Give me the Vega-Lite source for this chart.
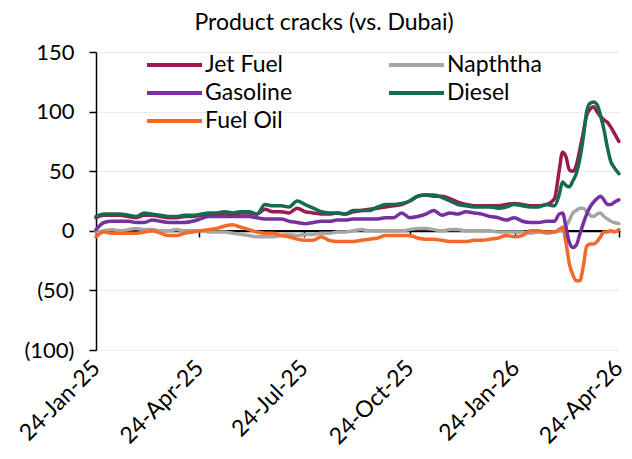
{
  "$schema": "https://vega.github.io/schema/vega-lite/v6.json",
  "width": 524,
  "height": 298,
  "autosize": {"type": "none"},
  "padding": {"left": 96, "top": 52, "right": 12, "bottom": 109},
  "background": "white",
  "config": {
    "font": "Lato",
    "view": {"stroke": null},
    "axis": {"labelFont": "Lato", "labelColor": "black", "labelFontSize": 20, "titleFont": "Lato"},
    "legend": {"labelFont": "Lato"}
  },
  "title": {
    "text": "Product cracks (vs. Dubai)",
    "font": "Lato",
    "fontSize": 23,
    "fontWeight": "normal",
    "color": "black",
    "anchor": "middle",
    "offset": 6,
    "dx": -34
  },
  "data": {
    "values": [
      {"date": "2025-01-24", "Jet Fuel": 11, "Napththa": -1, "Gasoline": 1, "Diesel": 12, "Fuel Oil": -5},
      {"date": "2025-01-31", "Jet Fuel": 13, "Napththa": 0, "Gasoline": 7, "Diesel": 14, "Fuel Oil": -1},
      {"date": "2025-02-07", "Jet Fuel": 13, "Napththa": 1, "Gasoline": 8, "Diesel": 14, "Fuel Oil": -2},
      {"date": "2025-02-14", "Jet Fuel": 13, "Napththa": 0, "Gasoline": 8, "Diesel": 14, "Fuel Oil": -2},
      {"date": "2025-02-21", "Jet Fuel": 12, "Napththa": 1, "Gasoline": 8, "Diesel": 13, "Fuel Oil": -2},
      {"date": "2025-02-28", "Jet Fuel": 11, "Napththa": 2, "Gasoline": 7, "Diesel": 12, "Fuel Oil": -2},
      {"date": "2025-03-07", "Jet Fuel": 13, "Napththa": 1, "Gasoline": 7, "Diesel": 15, "Fuel Oil": -1},
      {"date": "2025-03-14", "Jet Fuel": 13, "Napththa": 1, "Gasoline": 9, "Diesel": 14, "Fuel Oil": 0},
      {"date": "2025-03-21", "Jet Fuel": 12, "Napththa": 0, "Gasoline": 8, "Diesel": 13, "Fuel Oil": -2},
      {"date": "2025-03-28", "Jet Fuel": 11, "Napththa": 0, "Gasoline": 7, "Diesel": 12, "Fuel Oil": -4},
      {"date": "2025-04-04", "Jet Fuel": 11, "Napththa": 1, "Gasoline": 7, "Diesel": 12, "Fuel Oil": -4},
      {"date": "2025-04-11", "Jet Fuel": 12, "Napththa": 0, "Gasoline": 7, "Diesel": 13, "Fuel Oil": -2},
      {"date": "2025-04-18", "Jet Fuel": 12, "Napththa": 0, "Gasoline": 8, "Diesel": 13, "Fuel Oil": -1},
      {"date": "2025-04-25", "Jet Fuel": 13, "Napththa": 0, "Gasoline": 10, "Diesel": 14, "Fuel Oil": 0},
      {"date": "2025-05-02", "Jet Fuel": 14, "Napththa": -1, "Gasoline": 12, "Diesel": 15, "Fuel Oil": 1},
      {"date": "2025-05-09", "Jet Fuel": 14, "Napththa": -1, "Gasoline": 12, "Diesel": 15, "Fuel Oil": 2},
      {"date": "2025-05-16", "Jet Fuel": 15, "Napththa": -1, "Gasoline": 12, "Diesel": 16, "Fuel Oil": 4},
      {"date": "2025-05-23", "Jet Fuel": 14, "Napththa": -2, "Gasoline": 12, "Diesel": 15, "Fuel Oil": 5},
      {"date": "2025-05-30", "Jet Fuel": 15, "Napththa": -3, "Gasoline": 12, "Diesel": 16, "Fuel Oil": 3},
      {"date": "2025-06-06", "Jet Fuel": 15, "Napththa": -4, "Gasoline": 12, "Diesel": 16, "Fuel Oil": 1},
      {"date": "2025-06-13", "Jet Fuel": 14, "Napththa": -5, "Gasoline": 11, "Diesel": 14, "Fuel Oil": -1},
      {"date": "2025-06-20", "Jet Fuel": 18, "Napththa": -5, "Gasoline": 10, "Diesel": 22, "Fuel Oil": -2},
      {"date": "2025-06-27", "Jet Fuel": 16, "Napththa": -5, "Gasoline": 10, "Diesel": 21, "Fuel Oil": -2},
      {"date": "2025-07-04", "Jet Fuel": 16, "Napththa": -4, "Gasoline": 10, "Diesel": 21, "Fuel Oil": -4},
      {"date": "2025-07-11", "Jet Fuel": 15, "Napththa": -3, "Gasoline": 8, "Diesel": 20, "Fuel Oil": -5},
      {"date": "2025-07-18", "Jet Fuel": 19, "Napththa": -4, "Gasoline": 7, "Diesel": 25, "Fuel Oil": -7},
      {"date": "2025-07-25", "Jet Fuel": 16, "Napththa": -3, "Gasoline": 6, "Diesel": 22, "Fuel Oil": -8},
      {"date": "2025-08-01", "Jet Fuel": 15, "Napththa": -3, "Gasoline": 7, "Diesel": 19, "Fuel Oil": -8},
      {"date": "2025-08-08", "Jet Fuel": 14, "Napththa": -2, "Gasoline": 8, "Diesel": 16, "Fuel Oil": -5},
      {"date": "2025-08-15", "Jet Fuel": 14, "Napththa": -2, "Gasoline": 8, "Diesel": 15, "Fuel Oil": -8},
      {"date": "2025-08-22", "Jet Fuel": 15, "Napththa": -1, "Gasoline": 9, "Diesel": 15, "Fuel Oil": -9},
      {"date": "2025-08-29", "Jet Fuel": 14, "Napththa": -1, "Gasoline": 9, "Diesel": 14, "Fuel Oil": -9},
      {"date": "2025-09-05", "Jet Fuel": 16, "Napththa": 0, "Gasoline": 10, "Diesel": 17, "Fuel Oil": -9},
      {"date": "2025-09-12", "Jet Fuel": 17, "Napththa": 1, "Gasoline": 10, "Diesel": 17, "Fuel Oil": -8},
      {"date": "2025-09-19", "Jet Fuel": 18, "Napththa": 0, "Gasoline": 10, "Diesel": 17, "Fuel Oil": -7},
      {"date": "2025-09-26", "Jet Fuel": 19, "Napththa": 0, "Gasoline": 10, "Diesel": 20, "Fuel Oil": -6},
      {"date": "2025-10-03", "Jet Fuel": 20, "Napththa": 0, "Gasoline": 11, "Diesel": 22, "Fuel Oil": -4},
      {"date": "2025-10-10", "Jet Fuel": 21, "Napththa": 0, "Gasoline": 11, "Diesel": 22, "Fuel Oil": -4},
      {"date": "2025-10-17", "Jet Fuel": 22, "Napththa": 0, "Gasoline": 15, "Diesel": 23, "Fuel Oil": -4},
      {"date": "2025-10-24", "Jet Fuel": 25, "Napththa": 1, "Gasoline": 11, "Diesel": 25, "Fuel Oil": -4},
      {"date": "2025-10-31", "Jet Fuel": 29, "Napththa": 2, "Gasoline": 12, "Diesel": 29, "Fuel Oil": -6},
      {"date": "2025-11-07", "Jet Fuel": 30, "Napththa": 2, "Gasoline": 14, "Diesel": 30, "Fuel Oil": -7},
      {"date": "2025-11-14", "Jet Fuel": 29, "Napththa": 1, "Gasoline": 17, "Diesel": 30, "Fuel Oil": -7},
      {"date": "2025-11-21", "Jet Fuel": 29, "Napththa": 0, "Gasoline": 13, "Diesel": 28, "Fuel Oil": -8},
      {"date": "2025-11-28", "Jet Fuel": 27, "Napththa": 1, "Gasoline": 15, "Diesel": 25, "Fuel Oil": -9},
      {"date": "2025-12-05", "Jet Fuel": 24, "Napththa": 1, "Gasoline": 14, "Diesel": 22, "Fuel Oil": -9},
      {"date": "2025-12-12", "Jet Fuel": 22, "Napththa": 0, "Gasoline": 16, "Diesel": 21, "Fuel Oil": -9},
      {"date": "2025-12-19", "Jet Fuel": 21, "Napththa": 0, "Gasoline": 15, "Diesel": 20, "Fuel Oil": -8},
      {"date": "2025-12-26", "Jet Fuel": 21, "Napththa": 0, "Gasoline": 14, "Diesel": 20, "Fuel Oil": -8},
      {"date": "2026-01-02", "Jet Fuel": 21, "Napththa": 0, "Gasoline": 12, "Diesel": 20, "Fuel Oil": -7},
      {"date": "2026-01-09", "Jet Fuel": 21, "Napththa": -1, "Gasoline": 11, "Diesel": 19, "Fuel Oil": -6},
      {"date": "2026-01-16", "Jet Fuel": 22, "Napththa": -1, "Gasoline": 9, "Diesel": 20, "Fuel Oil": -4},
      {"date": "2026-01-23", "Jet Fuel": 23, "Napththa": -1, "Gasoline": 11, "Diesel": 22, "Fuel Oil": -5},
      {"date": "2026-01-30", "Jet Fuel": 22, "Napththa": -1, "Gasoline": 8, "Diesel": 21, "Fuel Oil": -4},
      {"date": "2026-02-06", "Jet Fuel": 21, "Napththa": -2, "Gasoline": 7, "Diesel": 20, "Fuel Oil": 0},
      {"date": "2026-02-13", "Jet Fuel": 21, "Napththa": -1, "Gasoline": 7, "Diesel": 20, "Fuel Oil": 0},
      {"date": "2026-02-20", "Jet Fuel": 22, "Napththa": -2, "Gasoline": 8, "Diesel": 22, "Fuel Oil": -1},
      {"date": "2026-02-27", "Jet Fuel": 27, "Napththa": -1, "Gasoline": 8, "Diesel": 21, "Fuel Oil": -1},
      {"date": "2026-03-03", "Jet Fuel": 50, "Napththa": 0, "Gasoline": 14, "Diesel": 30, "Fuel Oil": 1},
      {"date": "2026-03-06", "Jet Fuel": 66, "Napththa": 1, "Gasoline": 15, "Diesel": 41, "Fuel Oil": 3},
      {"date": "2026-03-09", "Jet Fuel": 62, "Napththa": 4, "Gasoline": 3, "Diesel": 38, "Fuel Oil": -10},
      {"date": "2026-03-12", "Jet Fuel": 51, "Napththa": 9, "Gasoline": -10, "Diesel": 37, "Fuel Oil": -28},
      {"date": "2026-03-15", "Jet Fuel": 50, "Napththa": 15, "Gasoline": -14, "Diesel": 42, "Fuel Oil": -37},
      {"date": "2026-03-18", "Jet Fuel": 55, "Napththa": 17, "Gasoline": -12, "Diesel": 48, "Fuel Oil": -42},
      {"date": "2026-03-21", "Jet Fuel": 68, "Napththa": 19, "Gasoline": -3, "Diesel": 60, "Fuel Oil": -42},
      {"date": "2026-03-24", "Jet Fuel": 82, "Napththa": 19, "Gasoline": 6, "Diesel": 78, "Fuel Oil": -30},
      {"date": "2026-03-27", "Jet Fuel": 97, "Napththa": 16, "Gasoline": 14, "Diesel": 100, "Fuel Oil": -13},
      {"date": "2026-03-30", "Jet Fuel": 102, "Napththa": 13, "Gasoline": 20, "Diesel": 107, "Fuel Oil": -11},
      {"date": "2026-04-02", "Jet Fuel": 104, "Napththa": 12, "Gasoline": 24, "Diesel": 108, "Fuel Oil": -11},
      {"date": "2026-04-05", "Jet Fuel": 100, "Napththa": 14, "Gasoline": 27, "Diesel": 106, "Fuel Oil": -9},
      {"date": "2026-04-08", "Jet Fuel": 96, "Napththa": 15, "Gasoline": 29, "Diesel": 97, "Fuel Oil": -5},
      {"date": "2026-04-11", "Jet Fuel": 93, "Napththa": 12, "Gasoline": 26, "Diesel": 85, "Fuel Oil": -1},
      {"date": "2026-04-14", "Jet Fuel": 91, "Napththa": 10, "Gasoline": 22, "Diesel": 70, "Fuel Oil": -1},
      {"date": "2026-04-17", "Jet Fuel": 87, "Napththa": 8, "Gasoline": 22, "Diesel": 58, "Fuel Oil": 0},
      {"date": "2026-04-20", "Jet Fuel": 82, "Napththa": 7, "Gasoline": 24, "Diesel": 53, "Fuel Oil": -1},
      {"date": "2026-04-24", "Jet Fuel": 75, "Napththa": 6, "Gasoline": 26, "Diesel": 48, "Fuel Oil": 1}
    ]
  },
  "transform": [
    {"fold": ["Napththa", "Fuel Oil", "Gasoline", "Jet Fuel", "Diesel"], "as": ["series", "value"]}
  ],
  "resolve": {"axis": {"x": "independent"}},
  "layer": [
    {
      "mark": {"type": "rule", "color": "black", "strokeWidth": 1.5},
      "encoding": {
        "x": {
          "field": "date", "type": "temporal", "aggregate": "min",
          "scale": {"type": "utc", "domain": [{"year": 2025, "month": 1, "date": 24, "utc": true}, {"year": 2026, "month": 4, "date": 25, "utc": true}]},
          "axis": {
            "orient": "bottom", "offset": -119, "title": null, "labels": false, "grid": false,
            "domain": true, "domainColor": "black", "domainWidth": 1.5,
            "ticks": true, "tickColor": "black", "tickSize": 6, "tickWidth": 1.5,
            "values": [
              {"year": 2025, "month": 1, "date": 24, "utc": true},
              {"year": 2025, "month": 4, "date": 24, "utc": true},
              {"year": 2025, "month": 7, "date": 24, "utc": true},
              {"year": 2025, "month": 10, "date": 24, "utc": true},
              {"year": 2026, "month": 1, "date": 24, "utc": true},
              {"year": 2026, "month": 4, "date": 24, "utc": true}
            ]
          }
        },
        "x2": {"field": "date", "aggregate": "max"},
        "y": {"datum": 0, "type": "quantitative"}
      }
    },
    {
      "mark": {"type": "line", "strokeWidth": 3.5, "interpolate": "monotone", "strokeCap": "round", "strokeJoin": "round"},
      "encoding": {
        "x": {
          "field": "date", "type": "temporal",
          "scale": {"type": "utc", "domain": [{"year": 2025, "month": 1, "date": 24, "utc": true}, {"year": 2026, "month": 4, "date": 25, "utc": true}]},
          "axis": {
            "orient": "bottom", "title": null, "domain": false, "ticks": false, "grid": false,
            "format": "%d-%b-%y", "labelAngle": -45, "labelAlign": "right", "labelBaseline": "middle",
            "labelPadding": 14, "labelFontSize": 23, "labelOverlap": false, "labelBound": false, "labelFlush": false,
            "values": [
              {"year": 2025, "month": 1, "date": 24, "utc": true},
              {"year": 2025, "month": 4, "date": 24, "utc": true},
              {"year": 2025, "month": 7, "date": 24, "utc": true},
              {"year": 2025, "month": 10, "date": 24, "utc": true},
              {"year": 2026, "month": 1, "date": 24, "utc": true},
              {"year": 2026, "month": 4, "date": 24, "utc": true}
            ]
          }
        },
        "y": {
          "field": "value", "type": "quantitative",
          "scale": {"domain": [-100, 150], "nice": false, "zero": false},
          "axis": {
            "title": null, "values": [-100, -50, 0, 50, 100, 150],
            "labelExpr": "datum.value < 0 ? '(' + abs(datum.value) + ')' : '' + datum.value",
            "labelFontSize": 22, "labelPadding": 15,
            "domain": true, "domainColor": "black", "domainWidth": 1.5,
            "ticks": true, "tickColor": "black", "tickSize": 7, "tickWidth": 1.5,
            "grid": true, "gridColor": "#d9d9d9", "gridDash": [2, 2], "gridWidth": 1
          }
        },
        "color": {
          "field": "series", "type": "nominal",
          "scale": {
            "domain": ["Jet Fuel", "Gasoline", "Fuel Oil", "Napththa", "Diesel"],
            "range": ["#9A1B4F", "#7630A0", "#F4692A", "#A6A6A6", "#156B4F"]
          },
          "legend": {
            "title": null, "orient": "none", "legendX": 49, "legendY": 1, "columns": 2,
            "labelFontSize": 23, "labelColor": "black",
            "symbolType": "M-1,0H4.5", "symbolSize": 400, "symbolStrokeWidth": 4,
            "labelOffset": 36, "columnPadding": 88, "rowPadding": 4
          }
        }
      }
    }
  ]
}
